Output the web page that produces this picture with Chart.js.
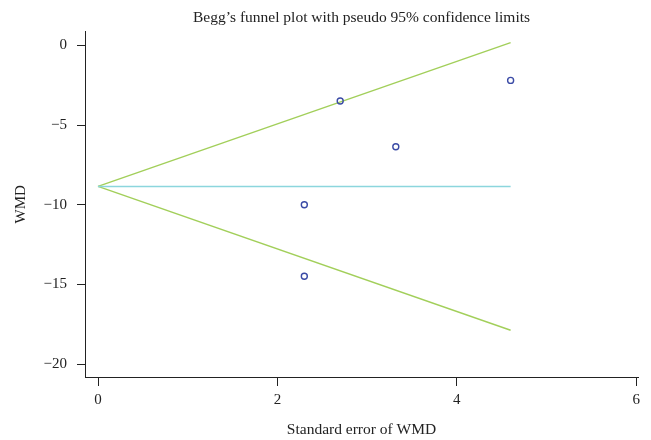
<!DOCTYPE html>
<html>
<head>
<meta charset="utf-8">
<script src="https://cdn.jsdelivr.net/npm/chart.js@4/dist/chart.umd.min.js"></script>
<style>
html,body{margin:0;padding:0;background:#fff;}
#wrap{width:651px;height:440px;position:relative;}
</style>
</head>
<body>
<div id="wrap"><canvas id="c" width="651" height="440"></canvas></div>
<script>
// Study points (standard error, WMD)
const seValues = [2.30, 2.30, 2.70, 3.32, 4.60];
const wmdValues = [-10.0, -14.48, -3.49, -6.36, -2.20];
// Funnel lines (pseudo 95% confidence limits) and pooled estimate
const funnelX = [0, 4.60];
const upperY = [-8.85, 0.17];
const lowerY = [-8.85, -17.87];
const pooledY = [-8.85, -8.85];
// Tick labels
const xTicks = [0, 2, 4, 6];
const yTicks = [-20, -15, -10, -5, 0];

const toPts = (xs, ys) => xs.map((x, i) => ({x: x, y: ys[i]}));
const serif = "'Liberation Serif', 'DejaVu Serif', serif";

Chart.defaults.font.family = serif;
Chart.defaults.color = '#222';

new Chart(document.getElementById('c'), {
  type: 'scatter',
  data: {
    datasets: [
      {label: 'upper', data: toPts(funnelX, upperY), showLine: true, borderColor: '#a2cf5a', borderWidth: 1.4, pointRadius: 0, order: 3},
      {label: 'lower', data: toPts(funnelX, lowerY), showLine: true, borderColor: '#a2cf5a', borderWidth: 1.4, pointRadius: 0, order: 3},
      {label: 'pooled', data: toPts(funnelX, pooledY), showLine: true, borderColor: '#8cd6dd', borderWidth: 1.6, pointRadius: 0, order: 2},
      {label: 'studies', data: toPts(seValues, wmdValues), pointRadius: 3, pointBorderWidth: 1.4, pointBorderColor: '#3b4ba6', pointBackgroundColor: 'rgba(0,0,0,0)', order: 1}
    ]
  },
  options: {
    responsive: false,
    animation: false,
    devicePixelRatio: 1,
    layout: {padding: {left: 0, right: 13, top: 0, bottom: 0}},
    plugins: {
      legend: {display: false},
      tooltip: {enabled: false},
      title: {
        display: true,
        fullSize: false,
        text: 'Begg\u2019s funnel plot with pseudo 95% confidence limits',
        font: {family: serif, size: 15.5, weight: 'normal'},
        color: '#222',
        padding: {top: 9, bottom: 4}
      }
    },
    scales: {
      x: {
        type: 'linear',
        min: -0.145,
        max: 6.02,
        afterBuildTicks: s => { s.ticks = xTicks.map(v => ({value: v})); },
        afterFit: s => { s.height = 63; },
        grid: {drawOnChartArea: false, drawTicks: true, tickLength: 9, color: '#222', lineWidth: 1},
        border: {display: true, color: '#222', width: 1},
        ticks: {padding: 5, font: {size: 15}, color: '#222', maxRotation: 0},
        title: {display: true, text: 'Standard error of WMD', font: {size: 15.5}, color: '#222', padding: {top: 4, bottom: 1}}
      },
      y: {
        type: 'linear',
        min: -20.8,
        max: 0.86,
        afterBuildTicks: s => { s.ticks = yTicks.map(v => ({value: v})); },
        afterFit: s => { s.width = 85; },
        grid: {drawOnChartArea: false, drawTicks: true, tickLength: 8, color: '#222', lineWidth: 1},
        border: {display: true, color: '#222', width: 1},
        ticks: {padding: 10, font: {size: 15}, color: '#222', callback: v => String(v).replace('-', '\u2212')},
        title: {display: true, text: 'WMD', font: {size: 15}, color: '#222', padding: {top: 12, bottom: 0}}
      }
    }
  }
});
</script>
</body>
</html>
